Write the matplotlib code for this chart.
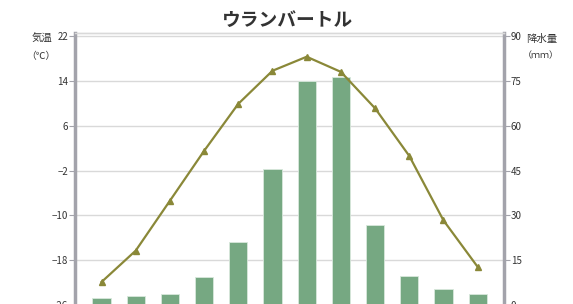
import matplotlib
matplotlib.use("Agg")
import matplotlib.pyplot as plt
import numpy as np

plt.rcParams['font.family'] = ['Noto Sans CJK JP', 'DejaVu Sans']

# ウランバートル 月別平年値
months = np.arange(12)
temp_c = [-21.9, -16.3, -7.4, 1.5, 9.9, 15.8, 18.3, 15.6, 9.1, 0.6, -10.9, -19.2]
precip_mm = [2.4, 3.0, 3.6, 9.3, 21.2, 45.5, 75.0, 76.3, 26.8, 9.8, 5.2, 3.7]
temp_ticks = [-26, -18, -10, -2, 6, 14, 22]
precip_ticks = [0, 15, 30, 45, 60, 75, 90]

spine_col = '#a3a3ab'
grid_col = '#d9d9d9'
bar_col = '#76a882'
line_col = '#8a8838'

fig = plt.figure(figsize=(5.73, 3.04), dpi=100)
ax = fig.add_axes([75/573, -0.0033, 429/573, 0.8947])
ax2 = ax.twinx()

# 降水量 (右軸) - grid here so it stays behind the bars
ax2.bar(months, precip_mm, width=0.53, color=bar_col, edgecolor='#d8e8dc', lw=0.6, zorder=2)
ax2.set_ylim(0, 90 + 3/2.99)
ax2.set_yticks(precip_ticks)
ax2.grid(axis='y', color=grid_col, lw=1, zorder=0)
ax2.set_axisbelow(True)

# 気温 (左軸)
ax.set_ylim(-26, 22 + 3/5.6)
ax.set_yticks(temp_ticks)
ax.set_xlim(-0.775, 11.77)
ax.set_xticks([])

ax.set_zorder(ax2.get_zorder() + 1)
ax.patch.set_visible(False)
ax.plot(months, temp_c, color=line_col, lw=1.6, marker='^', ms=5, zorder=3)

for a in (ax, ax2):
    for s in ('left', 'right'):
        a.spines[s].set_color(spine_col)
        a.spines[s].set_linewidth(2.5)
    a.spines['bottom'].set_visible(False)
    a.spines['top'].set_color(grid_col)
    a.spines['top'].set_linewidth(1)
    a.tick_params(axis='y', labelsize=7, labelcolor='#333333', color=spine_col,
                  length=4, width=0.8, pad=1)
ax.spines['right'].set_visible(False)
ax2.spines['left'].set_visible(False)

fig.text(288/573, 1 - 20/304, 'ウランバートル', ha='center', va='center',
         fontsize=13.5, fontweight='bold', color='#333333')
fig.text(42/573, 1 - 39/304, '気温', ha='center', va='center', fontsize=7.5, color='#333333')
fig.text(41/573, 1 - 56/304, '（℃）', ha='center', va='center', fontsize=7, color='#333333')
fig.text(542/573, 1 - 39/304, '降水量', ha='center', va='center', fontsize=7.5, color='#333333')
fig.text(541/573, 1 - 56/304, '（ｍｍ）', ha='center', va='center', fontsize=6.5, color='#333333')

fig.savefig('out.png', dpi=100)
